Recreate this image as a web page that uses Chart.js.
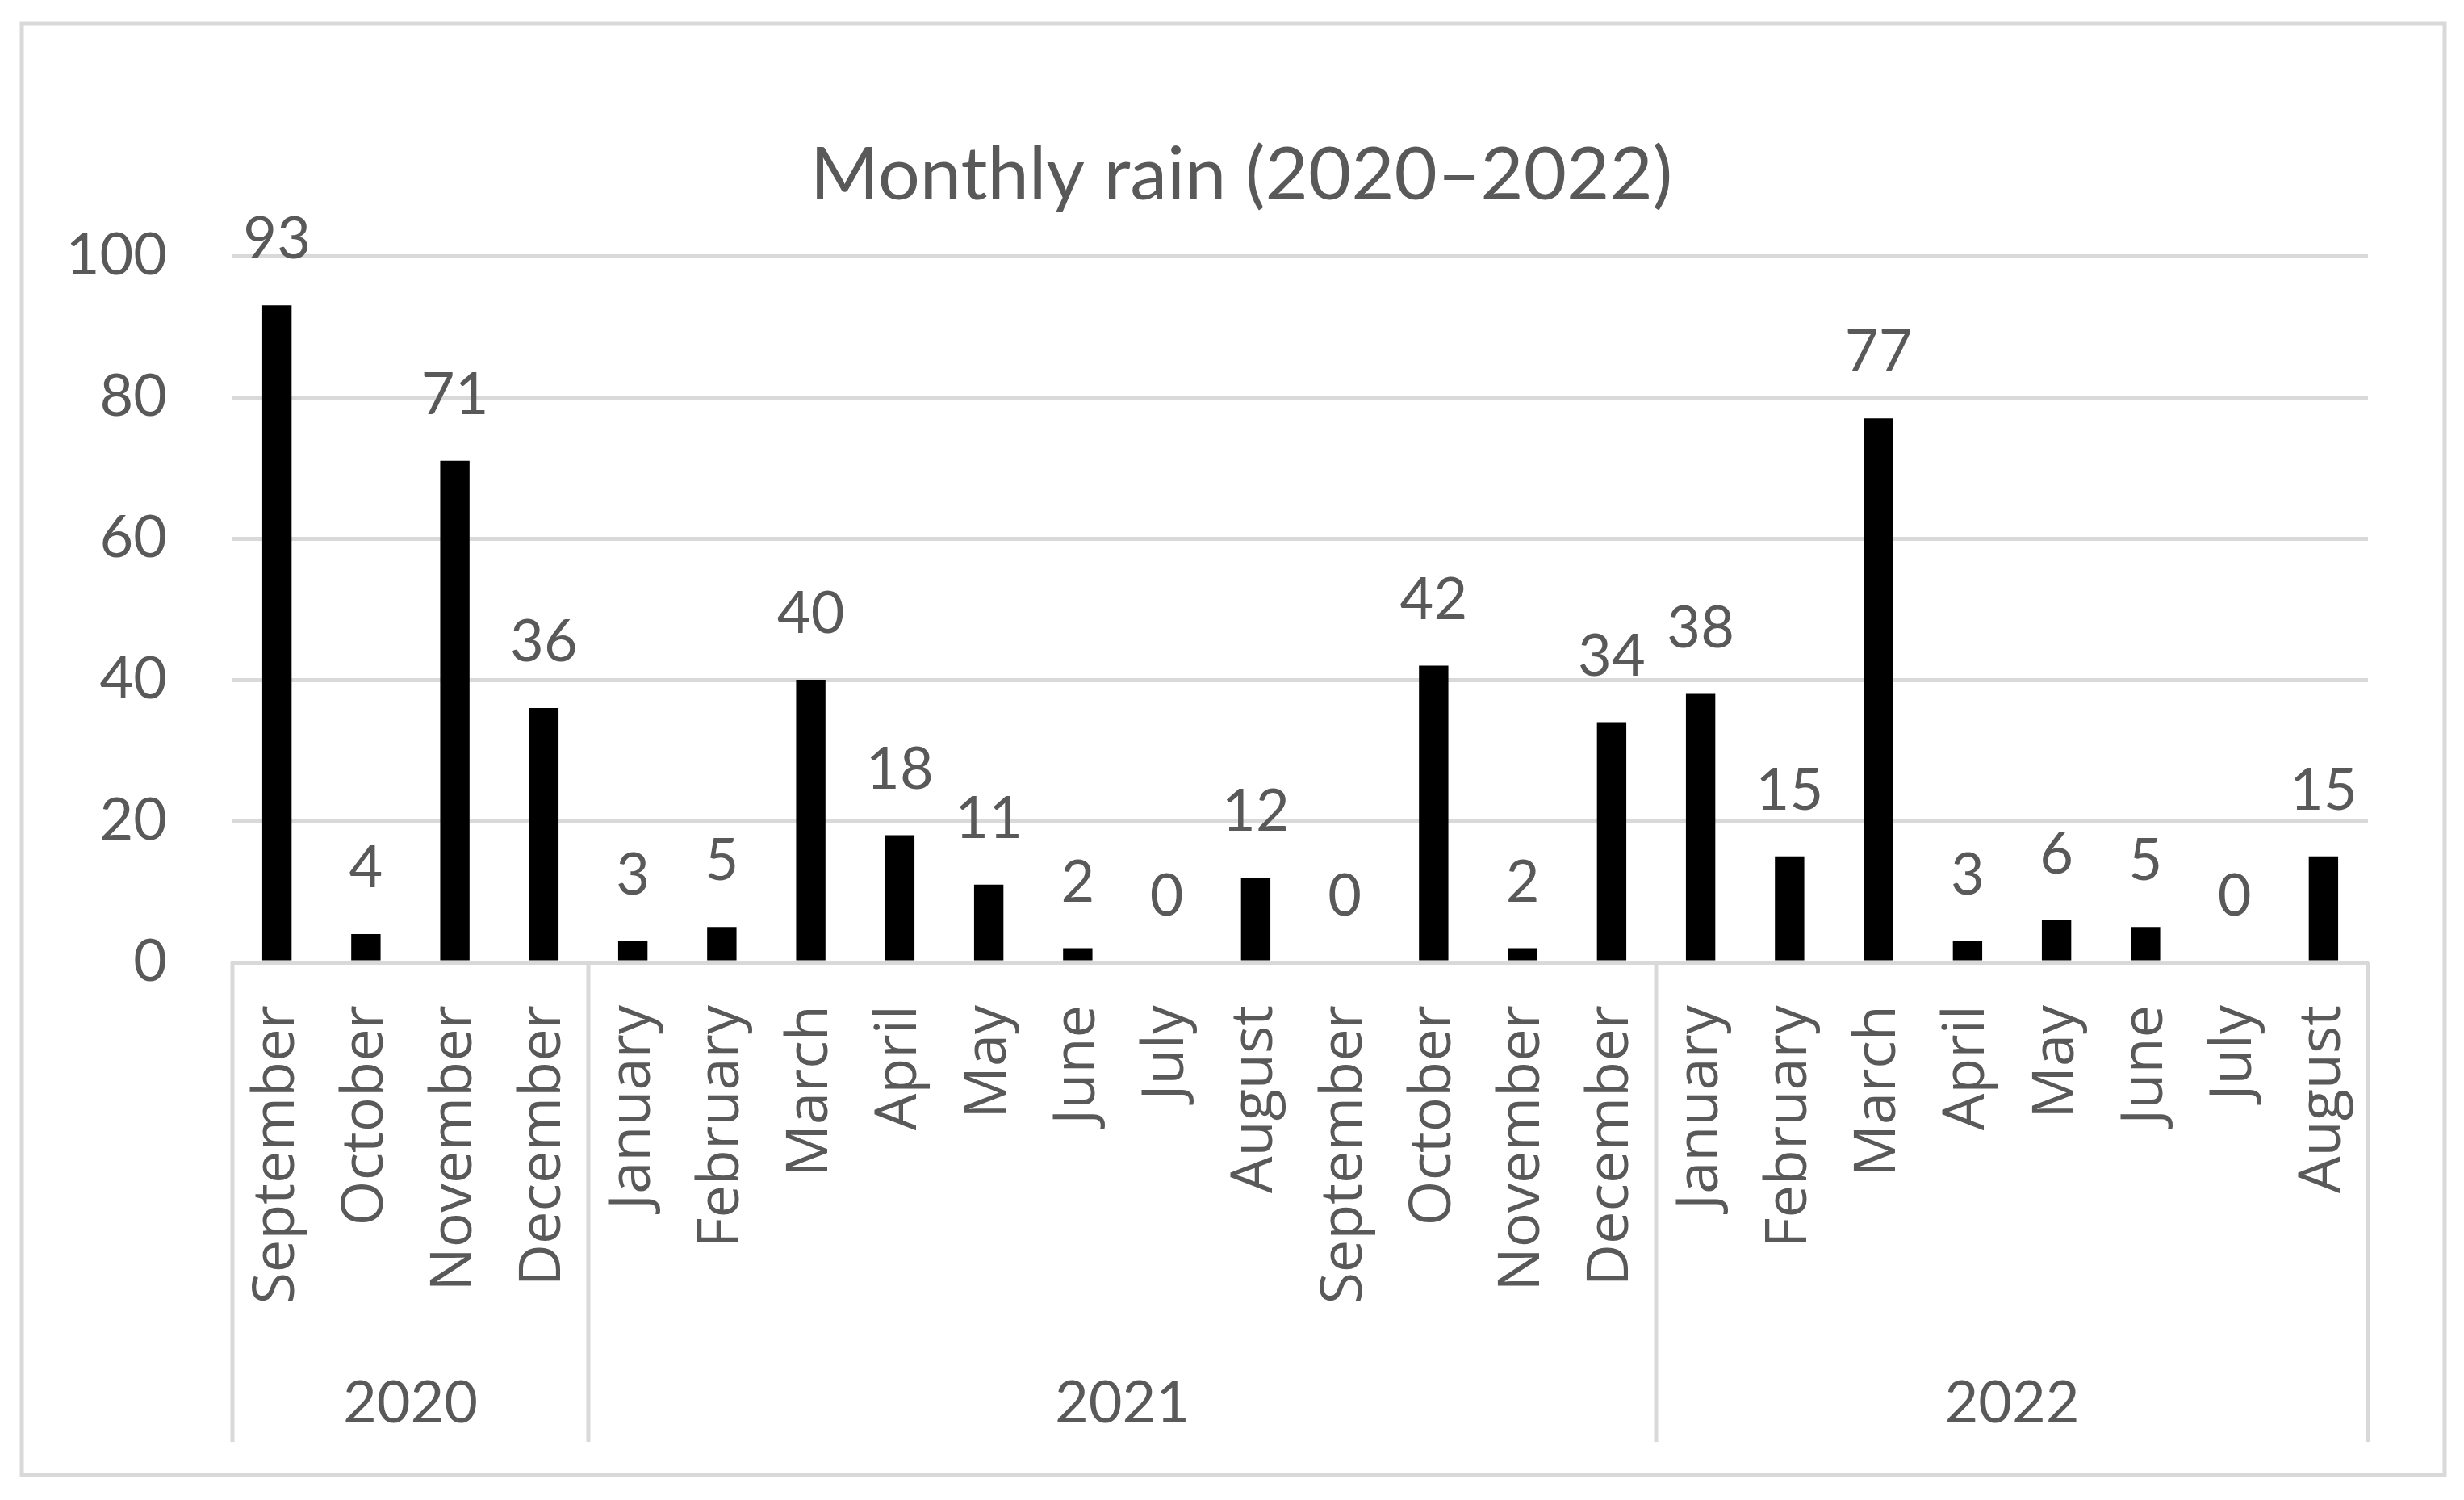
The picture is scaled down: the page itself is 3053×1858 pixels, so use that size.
<!DOCTYPE html>
<html>
<head>
<meta charset="utf-8">
<script src="https://cdn.jsdelivr.net/npm/chart.js@4.4.1/dist/chart.umd.min.js"></script>
<style>
  html, body { margin: 0; padding: 0; background: #ffffff; }
  #wrap { position: relative; width: 3053px; height: 1858px; }
</style>
</head>
<body>
<div id="wrap"><canvas id="c"></canvas></div>
<script>
// ---- data ----
const chartTitle = 'Monthly rain (2020\u20132022)';
const months = ['September','October','November','December',
  'January','February','March','April','May','June','July','August','September','October','November','December',
  'January','February','March','April','May','June','July','August'];
const rain = [93, 4, 71, 36,
  3, 5, 40, 18, 11, 2, 0, 12, 0, 42, 2, 34,
  38, 15, 77, 3, 6, 5, 0, 15];
const yearLabels = ['2020', '2021', '2022'];
const yearMonthCounts = [4, 12, 8];
const yMin = 0, yMax = 100, yStep = 20;

// ---- style ----
const TEXT = '#595959';
const GRID = '#d9d9d9';
const NUMFONT = 'Lato, "Open Sans", sans-serif';
const CATFONT = '"Open Sans", "Noto Sans", sans-serif';

const frame = {
  id: 'frame',
  beforeDraw(chart) {
    const ctx = chart.ctx;
    ctx.save();
    ctx.fillStyle = '#ffffff';
    ctx.fillRect(0, 0, chart.width, chart.height);
    ctx.strokeStyle = GRID;
    ctx.lineWidth = 5;
    ctx.strokeRect(27, 29, 3002, 1798);
    ctx.restore();
  }
};

const titlePlugin = {
  id: 'titleText',
  afterDraw(chart) {
    const ctx = chart.ctx;
    ctx.save();
    ctx.fillStyle = TEXT;
    ctx.font = '92px ' + NUMFONT;
    ctx.textAlign = 'center';
    ctx.textBaseline = 'alphabetic';
    ctx.fillText(chartTitle, 1538, 247);
    ctx.restore();
  }
};

const dataLabels = {
  id: 'dataLabels',
  afterDatasetsDraw(chart) {
    const ctx = chart.ctx;
    const meta = chart.getDatasetMeta(0);
    ctx.save();
    ctx.fillStyle = TEXT;
    ctx.font = '72px ' + NUMFONT;
    ctx.textAlign = 'center';
    ctx.textBaseline = 'alphabetic';
    meta.data.forEach((el, i) => {
      ctx.fillText(String(rain[i]), el.x, el.y - 58);
    });
    ctx.restore();
  }
};

const yearGroups = {
  id: 'yearGroups',
  afterDraw(chart) {
    const ctx = chart.ctx;
    const xs = chart.scales.x;
    const area = chart.chartArea;
    const half = (xs.getPixelForValue(1) - xs.getPixelForValue(0)) / 2;
    ctx.save();
    ctx.strokeStyle = GRID;
    ctx.lineWidth = 5;
    ctx.fillStyle = TEXT;
    ctx.font = '72px ' + NUMFONT;
    ctx.textAlign = 'center';
    ctx.textBaseline = 'alphabetic';
    let start = 0;
    const bounds = [xs.getPixelForValue(0) - half];
    yearMonthCounts.forEach((n, g) => {
      const end = start + n - 1;
      const x0 = xs.getPixelForValue(start) - half;
      const x1 = xs.getPixelForValue(end) + half;
      bounds.push(x1);
      ctx.fillText(yearLabels[g], (x0 + x1) / 2, 1762);
      start += n;
    });
    bounds.forEach(bx => {
      ctx.beginPath();
      ctx.moveTo(bx, area.bottom);
      ctx.lineTo(bx, 1786);
      ctx.stroke();
    });
    ctx.restore();
  }
};

new Chart(document.getElementById('c'), {
  type: 'bar',
  data: {
    labels: months,
    datasets: [{
      data: rain,
      backgroundColor: '#000000',
      borderWidth: 0,
      barPercentage: 0.33,
      categoryPercentage: 1.0
    }]
  },
  options: {
    responsive: true,
    maintainAspectRatio: false,
    animation: false,
    devicePixelRatio: 1,
    layout: { padding: { left: 0, right: 119, top: 317, bottom: 0 } },
    plugins: {
      legend: { display: false },
      tooltip: { enabled: false },
      title: { display: false }
    },
    scales: {
      x: {
        type: 'category',
        offset: true,
        grid: { display: false, drawTicks: false },
        border: { display: true, color: GRID, width: 5 },
        ticks: {
          autoSkip: false,
          minRotation: 90,
          maxRotation: 90,
          padding: 53,
          color: TEXT,
          font: { family: CATFONT, size: 72 }
        },
        afterFit(scale) { scale.height = 666; }
      },
      y: {
        min: yMin,
        max: yMax,
        grid: { color: GRID, lineWidth: 5, drawTicks: false },
        border: { display: false },
        ticks: {
          stepSize: yStep,
          padding: 81,
          color: TEXT,
          font: { family: NUMFONT, size: 72 }
        },
        afterFit(scale) { scale.width = 288; }
      }
    }
  },
  plugins: [frame, dataLabels, yearGroups, titlePlugin]
});
</script>
</body>
</html>
